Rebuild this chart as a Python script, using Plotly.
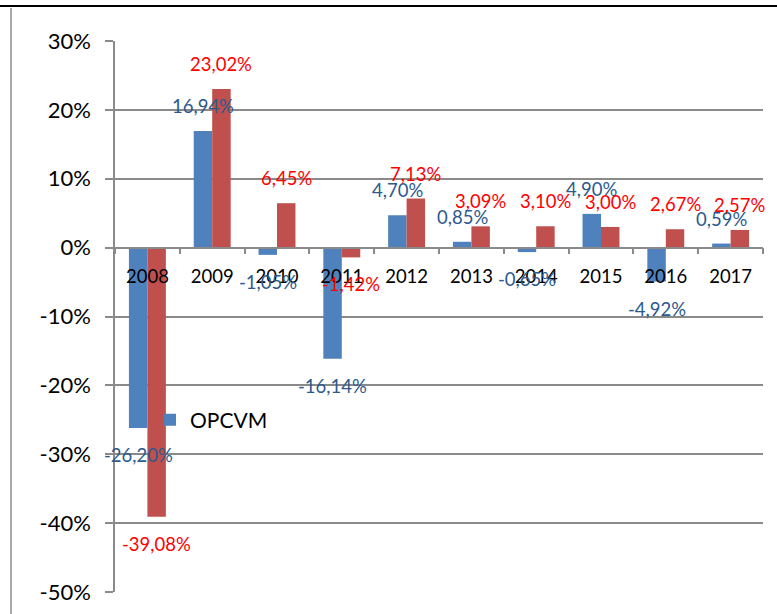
import plotly.graph_objects as go

# ---- data ----
years = ["2008", "2009", "2010", "2011", "2012", "2013", "2014", "2015", "2016", "2017"]
opcvm = [-26.20, 16.94, -1.05, -16.14, 4.70, 0.85, -0.65, 4.90, -4.92, 0.59]
masi = [-39.08, 23.02, 6.45, -1.42, 7.13, 3.09, 3.10, 3.00, 2.67, 2.57]
ytick_vals = [30, 20, 10, 0, -10, -20, -30, -40, -50]
ytick_text = ["30%", "20%", "10%", "0%", "-10%", "-20%", "-30%", "-40%", "-50%"]

FONT = "Lato"
BLUE = "#4F81BD"
RED = "#C0504D"
BLUE_LBL = "#2C5A8E"
RED_LBL = "#FF0000"
GRID = "#8A8A8A"


def fmt(v):
    return f"{v:.2f}".replace(".", ",") + "%"


fig = go.Figure()
fig.add_trace(go.Bar(x=years, y=opcvm, name="OPCVM", marker=dict(color=BLUE, line=dict(width=0))))
fig.add_trace(go.Bar(x=years, y=masi, name="MASI", showlegend=False,
                     marker=dict(color=RED, line=dict(width=0))))

ymin, ymax = -50, 30
bar_off = 9.25
annotations = []
for series, color, dx in ((opcvm, BLUE_LBL, -bar_off), (masi, RED_LBL, bar_off)):
    for i, v in enumerate(series):
        annotations.append(dict(
            x=i, y=v, xref="x", yref="y", text=fmt(v), showarrow=False,
            xshift=dx, yshift=25 if v >= 0 else -27,
            font=dict(family=FONT, size=18.5, color=color),
            xanchor="center", yanchor="middle",
        ))

W, H = 777, 614
L, R, T, B = 115, 14, 41, 22
pw, ph = W - L - R, H - T - B


def px_x(p):
    return (p - L) / pw


def px_y(p):
    return (H - B - p) / ph


shapes = [
    dict(type="line", xref="paper", yref="paper", x0=px_x(0), x1=px_x(W), y0=px_y(6), y1=px_y(6),
         line=dict(color="black", width=2.2)),
    dict(type="line", xref="paper", yref="paper", x0=px_x(11), x1=px_x(11), y0=px_y(8), y1=px_y(H + 5),
         line=dict(color="#A8A8A8", width=2)),
]

fig.update_layout(
    width=W, height=H, autosize=False,
    margin=dict(l=L, r=R, t=T, b=B, pad=0, autoexpand=False),
    paper_bgcolor="white", plot_bgcolor="white",
    barmode="group", bargap=0.43, bargroupgap=0,
    font=dict(family=FONT, color="black"),
    showlegend=True,
    legend=dict(x=px_x(150), y=px_y(420), xanchor="left", yanchor="middle",
                bgcolor="rgba(0,0,0,0)", font=dict(family=FONT, size=21, color="black")),
    annotations=annotations,
    shapes=shapes,
    xaxis=dict(
        type="category", range=[-0.5, len(years) - 0.5], automargin=False,
        anchor="free", position=(0 - ymin) / (ymax - ymin),
        showline=True, linecolor=GRID, linewidth=1.5,
        ticks="outside", tickson="boundaries", ticklen=6, tickcolor=GRID, tickwidth=1.5,
        showgrid=False, zeroline=False, tickangle=0,
        tickfont=dict(family=FONT, size=18.5, color="black"),
        ticklabelstandoff=12,
    ),
    yaxis=dict(
        range=[ymin, ymax], tickvals=ytick_vals, ticktext=ytick_text, automargin=False,
        showline=True, linecolor=GRID, linewidth=1.5,
        ticks="outside", ticklen=8, tickcolor=GRID, tickwidth=1.5,
        showgrid=True, gridcolor=GRID, gridwidth=1.5, zeroline=False,
        tickfont=dict(family=FONT, size=22, color="black"),
        ticklabelstandoff=10,
    ),
)

fig.write_html("out.html", config={"displayModeBar": False},
               post_script="document.body.style.margin='0';")
